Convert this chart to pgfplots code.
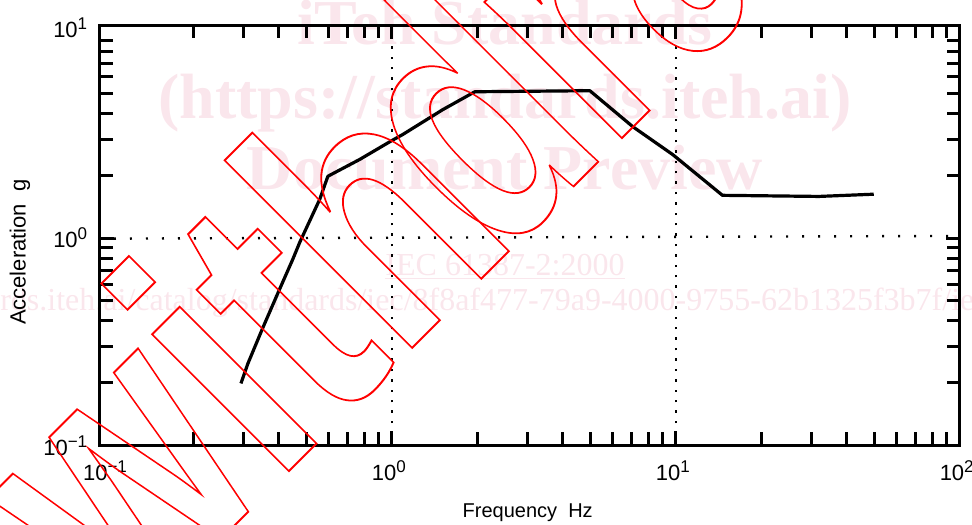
\documentclass[border=0pt]{standalone}
\usepackage{fontspec}
\usepackage{graphicx}
\setmainfont{Liberation Sans}
\newfontfamily\wmserif{Liberation Serif}
\usepackage{pgfplots}
\pgfplotsset{compat=1.18}
\definecolor{wmpink}{RGB}{250,230,236}
\newcommand{\tenexp}[1]{\mbox{\fontsize{22bp}{22bp}\selectfont 10\raisebox{8bp}{\fontsize{17bp}{17bp}\selectfont #1}}}
% one outlined piece of the slanted word: distance along its baseline, x and y scale, letters
\newcommand{\wl}[4]{\node[inner sep=0pt,anchor=base west,rotate=45] at ({274.6+0.7071*(#1)},{485.4-0.7071*(#1)}) {\scalebox{#2}[#3]{\special{pdf:code q 1 Tr 2 w 1 0 0 RG}\bfseries\fontsize{366bp}{366bp}\selectfont #4\special{pdf:code Q}}};}
\begin{document}
\begin{tikzpicture}[x=1bp,y=-1bp]
\clip (0,0) rectangle (972,525);
\path[use as bounding box] (0,0) rectangle (972,525);
% pale watermark
\begin{scope}[every node/.style={inner sep=0pt,text=wmpink,anchor=base}]
\node at (505,45) {\wmserif\bfseries\fontsize{64bp}{64bp}\selectfont iTeh Standards};
\node at (505,119) {\wmserif\bfseries\fontsize{64bp}{64bp}\selectfont (https://standards.iteh.ai)};
\node at (505,190) {\wmserif\bfseries\fontsize{64bp}{64bp}\selectfont Document Preview};
\node at (505,276) {\wmserif\fontsize{32bp}{32bp}\selectfont\underline{IEC 61387-2:2000}};
\node at (505,311) {\wmserif\fontsize{32bp}{32bp}\selectfont https://standards.iteh.ai/catalog/standards/iec/8f8af477-79a9-4000-9755-62b1325f3b7f/iec-61387-2-2000};
\end{scope}
% axis
\begin{axis}[
  at={(99.7bp,-445.3bp)},anchor=south west,
  scale only axis,width=860bp,height=419.8bp,
  xmode=log,ymode=log,
  xmin=0.0935,xmax=100,ymin=0.1,ymax=10.63,
  log basis x=10,log basis y=10,
  xtick={1,10,100},
  xticklabels={\tenexp{0},\tenexp{1},\tenexp{2}},
  ytick={0.1,1},
  yticklabels={\tenexp{\textminus 1},\tenexp{0}},
  extra x ticks={0.1},
  extra x tick labels={\tenexp{\textminus 1}},
  extra y ticks={10},
  extra y tick labels={\raisebox{7bp}{\tenexp{1}}},
  extra tick style={major tick length=0pt},
  minor xtick={0.2,0.3,0.4,0.5,0.6,0.7,0.8,0.9,2,3,4,5,6,7,8,9,20,30,40,50,60,70,80,90},
  minor ytick={0.2,0.3,0.4,0.5,0.6,0.7,0.8,0.9,2,3,4,5,6,7,8,9},
  tick align=inside,
  major tick length=14bp,minor tick length=13bp,
  tick style={black,line width=3bp},
  axis line style={line width=3bp},
  xticklabel style={xshift=-3bp,yshift=-12bp},
  yticklabel style={xshift=-9bp},
  xlabel={Frequency\ \ Hz},
  ylabel={Acceleration\ \ g},
  xlabel style={font=\fontsize{20bp}{20bp}\selectfont,at={(0.5,0)},anchor=base,yshift=-72bp,xshift=-2bp},
  ylabel style={font=\fontsize{22bp}{22bp}\selectfont,at={(0,0.46)},anchor=base,yshift=74bp},
  clip=false,
]
\addplot[black,line width=3.2bp,line join=round] coordinates {
 (0.294,0.199)(0.311,0.248)(0.351,0.369)(0.397,0.544)(0.448,0.793)(0.474,0.957)(0.557,1.54)(0.595,1.99)(0.771,2.40)(1.0,2.96)(1.09,3.16)(1.51,4.17)(1.96,5.09)(4.98,5.15)(7.06,3.45)(9.76,2.53)(14.6,1.61)(31.9,1.59)(49.8,1.63)
};
\addplot[black,line width=2.6bp,dash pattern=on 2.4bp off 8bp] coordinates {(1,0.128)(1,8.6)};
\addplot[black,line width=2.6bp,dash pattern=on 2.4bp off 8bp] coordinates {(10,0.128)(10,8.6)};
\addplot[black,line width=2.4bp,dash pattern=on 2bp off 14bp] coordinates {(0.105,0.995)(100,1.025)};
\end{axis}
% red outline watermark
\wl{-211}{0.74}{1}{w}
\wl{0}{0.78}{1}{i}
\wl{79.4}{0.78}{1}{t}
\wl{174.4}{0.78}{1}{h}
\wl{314}{0.72}{1}{d}
\wl{471}{0.78}{1}{r}
\wl{582}{0.78}{1}{awn}
\end{tikzpicture}
\end{document}
